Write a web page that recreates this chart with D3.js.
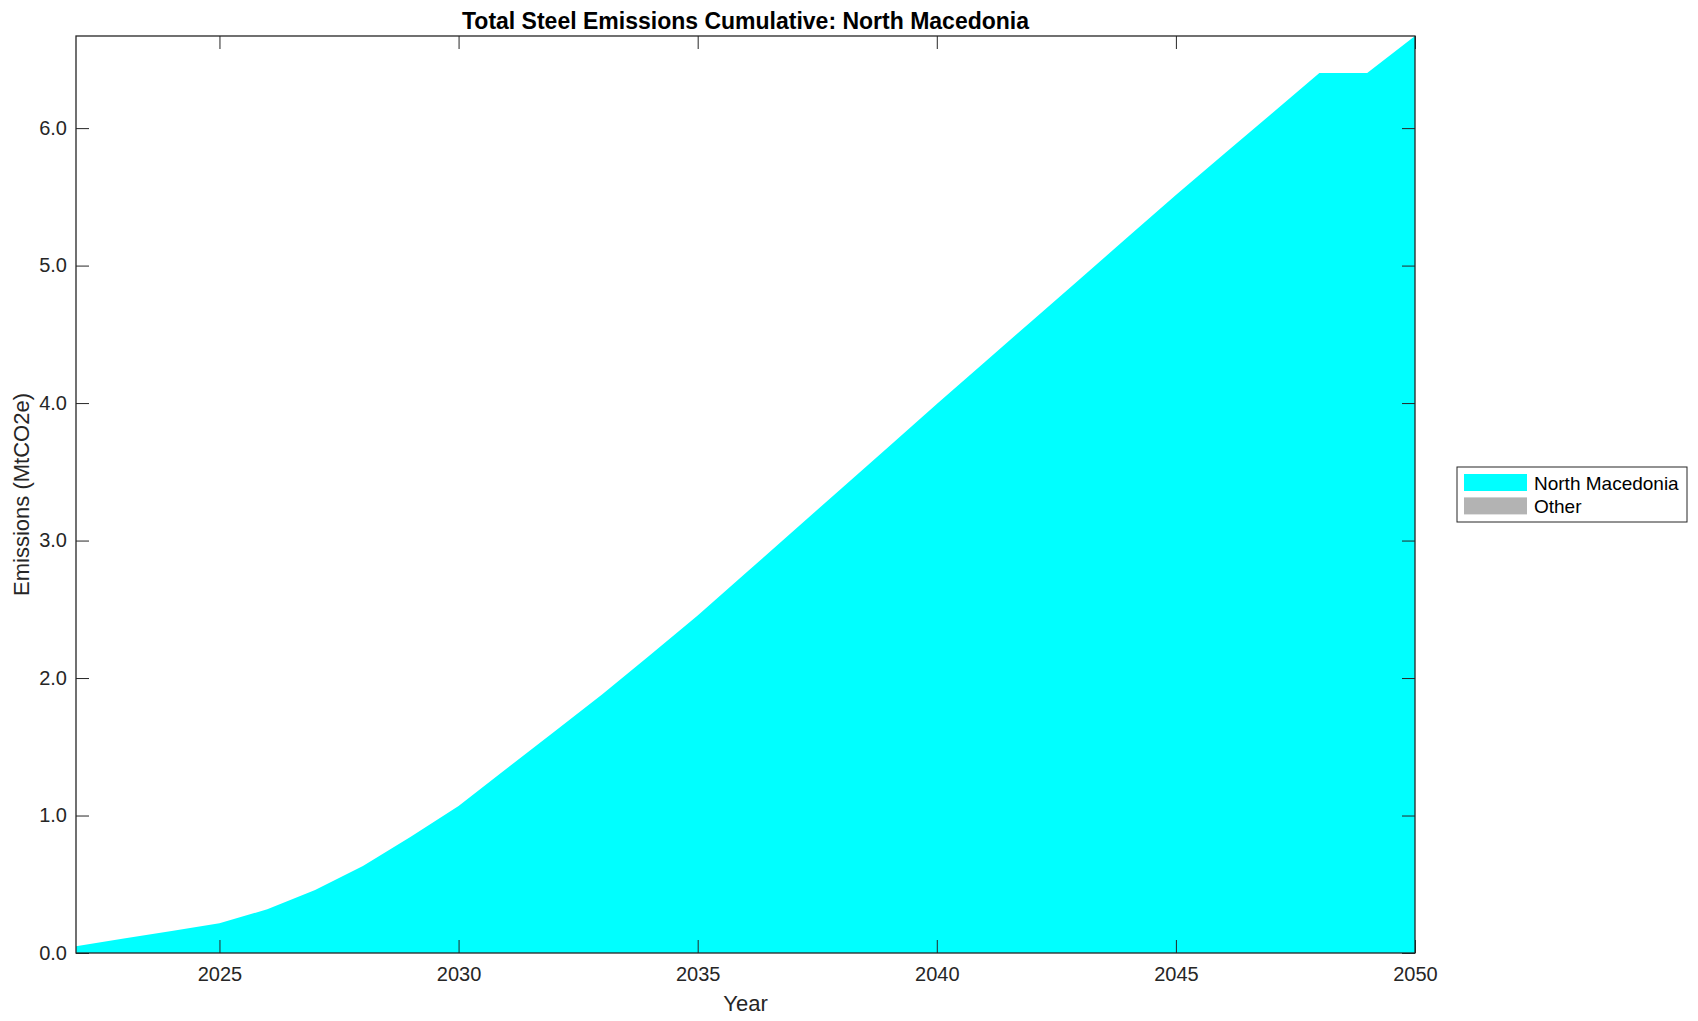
<!DOCTYPE html>
<html>
<head>
<meta charset="utf-8">
<script src="https://cdn.jsdelivr.net/npm/d3@7"></script>
<style>
  body { margin: 0; background: #fff; }
  text { font-family: "Liberation Sans", Arial, Helvetica, sans-serif; }
</style>
</head>
<body>
<script>
// data
const years = d3.range(2022, 2051);
const northMacedonia = [0.05, 0.105, 0.16, 0.216, 0.318, 0.458, 0.633, 0.846, 1.069, 1.34,
    1.61, 1.88, 2.165, 2.455, 2.762, 3.07, 3.377, 3.685, 3.993, 4.297,
    4.601, 4.905, 5.209, 5.513, 5.809, 6.105, 6.40, 6.40, 6.67];
const other = [0, 0, 0, 0, 0, 0, 0, 0, 0, 0, 0, 0, 0, 0, 0, 0, 0, 0, 0, 0,
    0, 0, 0, 0, 0, 0, 0, 0, 0];
const seriesNames = ["North Macedonia", "Other"];
const seriesColors = ["#00ffff", "#b3b3b3"];
const xTicks = [2025, 2030, 2035, 2040, 2045, 2050];
const yTicks = [0, 1, 2, 3, 4, 5, 6];

const width = 1698;
const height = 1021;
const margin = { top: 36, right: 283, bottom: 68, left: 76 };
const axisColor = "#262626";

const rows = years.map((y, i) => ({ year: y, "North Macedonia": northMacedonia[i], "Other": other[i] }));
const stacked = d3.stack().keys(seriesNames)(rows);

const x = d3.scaleLinear()
    .domain([2022, 2050])
    .range([margin.left, width - margin.right]);

const y = d3.scaleLinear()
    .domain([0, d3.max(northMacedonia)])
    .range([height - margin.bottom, margin.top]);

const svg = d3.select("body")
    .append("svg")
    .attr("width", width)
    .attr("height", height);

const area = d3.area()
    .x(d => x(d.data.year))
    .y0(d => y(d[0]))
    .y1(d => y(d[1]));

svg.selectAll("path.layer")
    .data(stacked)
    .enter()
    .append("path")
    .attr("class", "layer")
    .attr("d", area)
    .attr("fill", (d, i) => seriesColors[i]);

// axes, ticks inside, box on all sides
const tickLen = 13;
const bottomAxis = svg.append("g")
    .attr("transform", "translate(0," + (height - margin.bottom) + ")")
    .call(d3.axisBottom(x).tickValues(xTicks).tickFormat(d3.format("d")).tickSizeInner(-tickLen).tickSizeOuter(0).tickPadding(14));
const leftAxis = svg.append("g")
    .attr("transform", "translate(" + margin.left + ",0)")
    .call(d3.axisLeft(y).tickValues(yTicks).tickFormat(d3.format(".1f")).tickSizeInner(-tickLen).tickSizeOuter(0).tickPadding(9));
const topAxis = svg.append("g")
    .attr("transform", "translate(0," + margin.top + ")")
    .call(d3.axisTop(x).tickValues(xTicks).tickFormat("").tickSizeInner(-tickLen).tickSizeOuter(0));
const rightAxis = svg.append("g")
    .attr("transform", "translate(" + (width - margin.right) + ",0)")
    .call(d3.axisRight(y).tickValues(yTicks).tickFormat("").tickSizeInner(-tickLen).tickSizeOuter(0));

[bottomAxis, leftAxis, topAxis, rightAxis].forEach(g => {
    g.selectAll("line").attr("stroke", axisColor).attr("stroke-width", 1);
    g.selectAll("text").attr("fill", axisColor).style("font-size", "20px");
    g.select(".domain").remove();
});

svg.append("rect")
    .attr("x", margin.left)
    .attr("y", margin.top)
    .attr("width", width - margin.right - margin.left)
    .attr("height", height - margin.bottom - margin.top)
    .attr("fill", "none")
    .attr("stroke", axisColor)
    .attr("stroke-width", 1.3);

// title
svg.append("text")
    .attr("x", (margin.left + width - margin.right) / 2)
    .attr("y", 29)
    .attr("text-anchor", "middle")
    .style("font-size", "23px")
    .style("font-weight", "bold")
    .text("Total Steel Emissions Cumulative: North Macedonia");

// x label
svg.append("text")
    .attr("x", (margin.left + width - margin.right) / 2)
    .attr("y", 1011)
    .attr("text-anchor", "middle")
    .attr("fill", axisColor)
    .style("font-size", "22px")
    .text("Year");

// y label
svg.append("text")
    .attr("transform", "translate(29," + ((margin.top + height - margin.bottom) / 2) + ") rotate(-90)")
    .attr("text-anchor", "middle")
    .attr("fill", axisColor)
    .style("font-size", "22px")
    .text("Emissions (MtCO2e)");

// legend
const legend = svg.append("g").attr("transform", "translate(1457,467)");
legend.append("rect")
    .attr("width", 230)
    .attr("height", 55)
    .attr("fill", "#fff")
    .attr("stroke", axisColor)
    .attr("stroke-width", 1);

const items = legend.selectAll("g.item")
    .data(seriesNames)
    .enter()
    .append("g")
    .attr("class", "item")
    .attr("transform", (d, i) => "translate(7," + (7 + i * 23.4) + ")");

items.append("rect")
    .attr("width", 63)
    .attr("height", 17)
    .attr("fill", (d, i) => seriesColors[i]);

items.append("text")
    .attr("x", 70)
    .attr("y", 9)
    .attr("dy", "0.35em")
    .style("font-size", "19px")
    .text(d => d);
</script>
</body>
</html>
